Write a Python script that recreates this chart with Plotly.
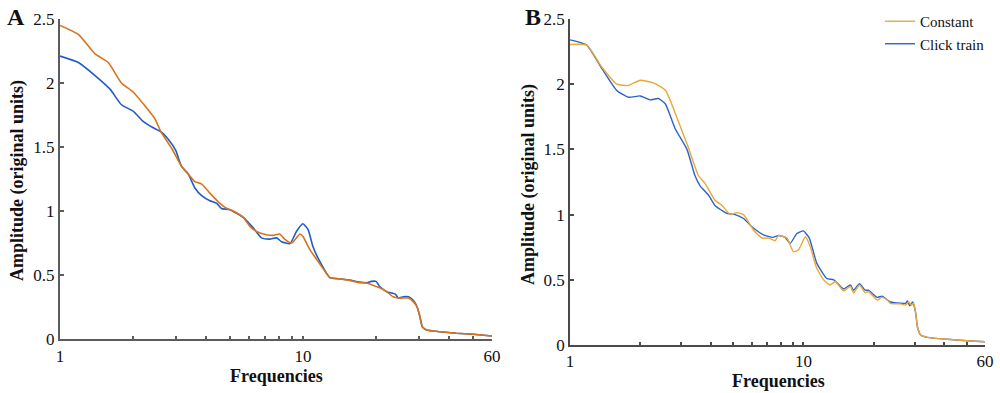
import plotly.graph_objects as go

# ---------------- data ----------------
A_const_f = [1.00,1.19,1.39,1.58,1.79,2.00,2.24,2.46,2.60,2.88,3.16,3.37,3.59,3.83,4.14,4.55,4.86,5.17,5.68,6.05,
             6.44,7.08,7.54,8.03,8.40,8.98,9.72,10.0,10.67,11.4,12.1,12.9,14.2,15.6,17.1,18.3,19.4,20.7,22.1,23.5,
             24.7,25.9,27.2,28.5,29.5,30.3,31.0,32.3,36.6,42.8,50.2,60]
A_const_v = [2.45,2.38,2.23,2.16,2.00,1.93,1.82,1.72,1.62,1.49,1.35,1.29,1.23,1.21,1.14,1.06,1.02,1.00,0.95,0.88,
             0.84,0.815,0.81,0.82,0.78,0.75,0.82,0.80,0.70,0.62,0.55,0.48,0.47,0.457,0.44,0.437,0.42,0.40,0.37,0.33,
             0.32,0.32,0.32,0.29,0.25,0.175,0.096,0.07,0.057,0.045,0.037,0.024]

A_click_f = [1.00,1.19,1.39,1.61,1.79,2.00,2.20,2.42,2.60,2.79,3.00,3.16,3.37,3.59,3.83,4.14,4.42,4.62,5.0,5.68,
             6.23,6.75,7.3,7.8,8.17,8.85,9.4,10.0,10.5,11.0,11.7,12.9,14.2,15.6,17.1,18.3,19.1,20.0,20.7,22.1,
             24.0,24.7,25.9,27.2,28.5,29.5,30.3,31.0,32.3,36.6,42.8,50.2,60]
A_click_v = [2.21,2.16,2.06,1.95,1.83,1.78,1.70,1.65,1.62,1.56,1.47,1.35,1.29,1.18,1.12,1.08,1.06,1.02,1.01,0.95,
             0.87,0.79,0.78,0.79,0.76,0.745,0.84,0.90,0.855,0.72,0.61,0.48,0.47,0.46,0.445,0.44,0.45,0.45,0.41,0.37,
             0.35,0.32,0.33,0.33,0.30,0.25,0.175,0.096,0.07,0.057,0.045,0.037,0.024]

B_const_f = [1.00,1.18,1.37,1.59,1.78,2.00,2.28,2.56,2.92,3.22,3.55,3.79,4.18,4.48,4.86,5.19,5.54,6.12,6.64,7.09,
             7.57,7.82,8.5,9.07,9.54,10.2,10.7,11.4,12.2,13.0,13.7,14.9,15.9,16.4,17.4,18.4,19.0,20.7,21.7,22.9,
             23.6,26.1,27.4,28.3,29.0,29.7,30.3,30.8,31.8,34.0,41.3,50.2,60]
B_const_v = [2.305,2.30,2.13,2.00,1.99,2.03,2.01,1.955,1.71,1.51,1.30,1.24,1.11,1.07,1.00,1.015,1.00,0.88,0.82,0.82,
             0.80,0.84,0.82,0.715,0.73,0.83,0.755,0.59,0.50,0.46,0.485,0.415,0.45,0.40,0.46,0.40,0.41,0.345,0.365,0.345,
             0.32,0.315,0.307,0.33,0.307,0.32,0.243,0.14,0.077,0.059,0.044,0.033,0.025]

B_click_f = [1.00,1.18,1.37,1.59,1.78,2.00,2.20,2.39,2.56,2.82,3.17,3.43,3.61,3.92,4.18,4.70,5.10,5.54,6.12,6.75,
             7.40,7.82,8.35,8.78,9.38,10.0,10.6,11.4,12.6,13.5,14.4,14.9,15.9,16.4,17.4,18.4,19.0,20.7,21.7,22.9,
             23.6,26.1,27.4,27.9,28.6,29.4,30.3,30.8,31.8,34.0,41.3,50.2,60]
B_click_v = [2.34,2.30,2.12,1.95,1.90,1.91,1.88,1.89,1.85,1.66,1.50,1.30,1.22,1.15,1.07,1.01,1.00,0.97,0.895,0.845,
             0.825,0.84,0.825,0.78,0.855,0.875,0.82,0.63,0.51,0.50,0.45,0.43,0.46,0.42,0.47,0.42,0.42,0.365,0.375,0.345,
             0.33,0.32,0.32,0.337,0.30,0.33,0.243,0.14,0.077,0.059,0.044,0.033,0.025]

x_tickvals = [1,2,3,4,5,6,7,8,9,10,20,30,40,50,60]
x_ticktext = ["1","","","","","","","","","10","","","","","60"]
y_tickvals = [0,0.5,1,1.5,2,2.5]
y_ticktext = ["0","0.5","1","1.5","2","2.5"]

series_names = ["Constant", "Click train"]

# ---------------- style ----------------
FONT = "Liberation Serif"
A_orange, A_blue = "#D8731C", "#1F5BC9"
B_orange, B_blue = "#E9A83A", "#2B63CB"
W, H = 1000, 393

def px_x(p):
    return p / W

def px_y(p):
    return (H - p) / H

fig = go.Figure()

fig.add_trace(go.Scatter(x=A_click_f, y=A_click_v, mode="lines", name=series_names[1],
                         line=dict(color=A_blue, width=1.6, shape="spline", smoothing=0.5),
                         xaxis="x", yaxis="y", showlegend=False))
fig.add_trace(go.Scatter(x=A_const_f, y=A_const_v, mode="lines", name=series_names[0],
                         line=dict(color=A_orange, width=1.6, shape="spline", smoothing=0.5),
                         xaxis="x", yaxis="y", showlegend=False))
fig.add_trace(go.Scatter(x=B_click_f, y=B_click_v, mode="lines", name=series_names[1],
                         line=dict(color=B_blue, width=1.4, shape="spline", smoothing=0.5),
                         xaxis="x2", yaxis="y2", showlegend=True, legendrank=2))
fig.add_trace(go.Scatter(x=B_const_f, y=B_const_v, mode="lines", name=series_names[0],
                         line=dict(color=B_orange, width=1.4, shape="spline", smoothing=0.5),
                         xaxis="x2", yaxis="y2", showlegend=True, legendrank=1))

def xaxis(domain, anchor, color, lw):
    return dict(type="log", domain=domain, anchor=anchor, range=[0, 1.7782],
                tickvals=x_tickvals, ticktext=x_ticktext, ticks="inside", ticklen=3,
                tickcolor=color, tickwidth=1.5, showline=True, linecolor=color, linewidth=lw,
                showgrid=False, zeroline=False, tickfont=dict(family=FONT, size=17, color="#111"),
                fixedrange=True, automargin=False)

def yaxis(domain, anchor, color, lw):
    return dict(domain=domain, anchor=anchor, range=[0, 2.5],
                tickvals=y_tickvals, ticktext=y_ticktext, ticks="inside", ticklen=4,
                tickcolor=color, tickwidth=1.5, showline=True, linecolor=color, linewidth=lw,
                showgrid=False, zeroline=False, tickfont=dict(family=FONT, size=17, color="#111"),
                fixedrange=True, automargin=False)

fig.update_layout(
    width=W, height=H,
    margin=dict(l=0, r=0, t=0, b=0, autoexpand=False),
    paper_bgcolor="white", plot_bgcolor="white",
    font=dict(family=FONT, color="#111"),
    xaxis=xaxis([px_x(60), px_x(492)], "y", "#5A5C5E", 2.2),
    yaxis=yaxis([px_y(339), px_y(19)], "x", "#5A5C5E", 2.2),
    xaxis2=xaxis([px_x(570), px_x(985)], "y2", "#4A4A4A", 1.5),
    yaxis2=yaxis([px_y(345), px_y(19)], "x2", "#4A4A4A", 1.5),
    legend=dict(x=px_x(880), y=px_y(5), xanchor="left", yanchor="top",
                font=dict(family=FONT, size=15, color="#111"),
                bgcolor="rgba(0,0,0,0)", itemwidth=30, tracegroupgap=0),
    showlegend=True,
)

def anno(text, x, y, size, angle=0):
    return dict(text=text, x=px_x(x), y=px_y(y), xref="paper", yref="paper",
                xanchor="center", yanchor="middle", showarrow=False, textangle=angle,
                font=dict(family=FONT, size=size, color="#111"))

fig.update_layout(annotations=[
    anno("<b>A</b>", 16, 17, 24),
    anno("<b>B</b>", 533, 17, 24),
    anno("<b>Frequencies</b>", 276, 376, 18),
    anno("<b>Frequencies</b>", 778, 381, 18),
    anno("<b>Amplitude (original units)</b>", 18, 181, 18, -90),
    anno("<b>Amplitude (original units)</b>", 528, 185, 18, -90),
])

fig.write_html("out.html", config={"displayModeBar": False},
               post_script="document.body.style.margin='0px';document.body.style.padding='0px';")
